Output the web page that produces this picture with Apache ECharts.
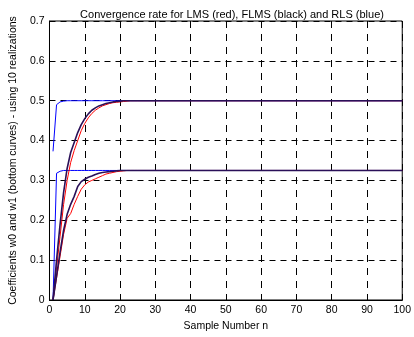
<!DOCTYPE html>
<html>
<head>
<meta charset="utf-8">
<script src="https://cdn.jsdelivr.net/npm/echarts@6/dist/echarts.min.js"></script>
<style>
  html, body { margin: 0; padding: 0; background: #fff; }
  #chart { width: 414px; height: 337px; }
</style>
</head>
<body>
<div id="chart"></div>
<script>
// sample index n (the curves are flat after ~25 samples, last point is n = 100)
const sampleN = [1, 2, 3, 4, 5, 6, 7, 8, 9, 10, 11, 12, 13, 14, 15, 16, 17, 18, 19, 20, 21, 22, 23, 24, 25, 100];

// w0 (top curves)
const lmsW0 = [0, 0.08, 0.16, 0.24, 0.30, 0.345, 0.375, 0.40, 0.425, 0.443, 0.457, 0.468, 0.476, 0.482, 0.487, 0.49, 0.493, 0.495, 0.496, 0.497, 0.498, 0.499, 0.5, 0.5, 0.5, 0.5];
const flmsW0 = [0, 0.10, 0.19, 0.27, 0.33, 0.37, 0.395, 0.42, 0.44, 0.455, 0.467, 0.476, 0.482, 0.487, 0.49, 0.493, 0.495, 0.497, 0.498, 0.499, 0.5, 0.5, 0.5, 0.5, 0.5, 0.5];
const rlsW0 = [0.373, 0.49, 0.497, 0.499, 0.5, 0.5, 0.5, 0.5, 0.5, 0.5, 0.5, 0.5, 0.5, 0.5, 0.5, 0.5, 0.5, 0.5, 0.5, 0.5, 0.5, 0.5, 0.5, 0.5, 0.5, 0.5];

// w1 (bottom curves)
const lmsW1 = [0, 0.055, 0.11, 0.165, 0.205, 0.217, 0.24, 0.26, 0.278, 0.289, 0.296, 0.30, 0.304, 0.308, 0.312, 0.316, 0.318, 0.32, 0.322, 0.323, 0.324, 0.325, 0.325, 0.325, 0.325, 0.325];
const flmsW1 = [0, 0.06, 0.12, 0.175, 0.215, 0.24, 0.26, 0.285, 0.297, 0.303, 0.308, 0.311, 0.315, 0.318, 0.32, 0.321, 0.322, 0.323, 0.324, 0.325, 0.325, 0.325, 0.325, 0.325, 0.325, 0.325];
const rlsW1 = [0, 0.318, 0.323, 0.325, 0.325, 0.325, 0.325, 0.325, 0.325, 0.325, 0.325, 0.325, 0.325, 0.325, 0.325, 0.325, 0.325, 0.325, 0.325, 0.325, 0.325, 0.325, 0.325, 0.325, 0.325, 0.325];

const font = "Liberation Sans, Arial, sans-serif";

const pairs = (vals) => sampleN.map((n, i) => [n, vals[i]]);

const line = (name, vals, color, width) => ({
  name: name,
  type: "line",
  data: pairs(vals),
  symbol: "none",
  silent: true,
  lineStyle: { color: color, width: width },
});

const chart = echarts.init(document.getElementById("chart"));
chart.setOption({
  animation: false,
  title: {
    text: "Convergence rate for LMS (red), FLMS (black) and RLS (blue)",
    left: 227,
    textAlign: "center",
    top: 4,
    textStyle: { fontFamily: font, fontSize: 11, fontWeight: "normal", color: "#000" },
  },
  grid: {
    left: 47,
    right: 7,
    top: 21,
    bottom: 33,
    show: true,
    borderColor: "#000",
    borderWidth: 1,
  },
  xAxis: {
    type: "value",
    min: 0,
    max: 100,
    interval: 10,
    name: "Sample Number n",
    nameLocation: "middle",
    nameGap: 21,
    nameTextStyle: { fontFamily: font, fontSize: 10.5, color: "#000" },
    axisLine: { lineStyle: { color: "#000", width: 1 } },
    axisTick: { inside: true, length: 4, lineStyle: { color: "#000" } },
    axisLabel: { fontFamily: font, fontSize: 10.5, color: "#000", margin: 5 },
    splitLine: { show: true, lineStyle: { color: "#000", type: [7, 6], width: 1 } },
  },
  yAxis: {
    type: "value",
    min: 0,
    max: 0.7,
    interval: 0.1,
    name: "Coefficients w0 and w1 (bottom curves) - using 10 realizations",
    nameLocation: "middle",
    nameGap: 27,
    nameTextStyle: { fontFamily: font, fontSize: 10.5, color: "#000" },
    axisLine: { show: true, lineStyle: { color: "#000", width: 1 } },
    axisTick: { show: true, inside: true, length: 4, lineStyle: { color: "#000" } },
    axisLabel: { fontFamily: font, fontSize: 10.5, color: "#000", margin: 5 },
    splitLine: { show: true, lineStyle: { color: "#000", type: [6, 5], width: 1 } },
  },
  // drawn in order: blue, red, then the dark FLMS curves on top
  series: [
    line("RLS w0", rlsW0, "#0000ff", 1),
    line("RLS w1", rlsW1, "#0000ff", 1),
    line("LMS w0", lmsW0, "#ff0000", 1),
    line("LMS w1", lmsW1, "#ff0000", 1),
    line("FLMS w0", flmsW0, "#2a1058", 1.6),
    line("FLMS w1", flmsW1, "#2a1058", 1.6),
  ],
});
</script>
</body>
</html>
